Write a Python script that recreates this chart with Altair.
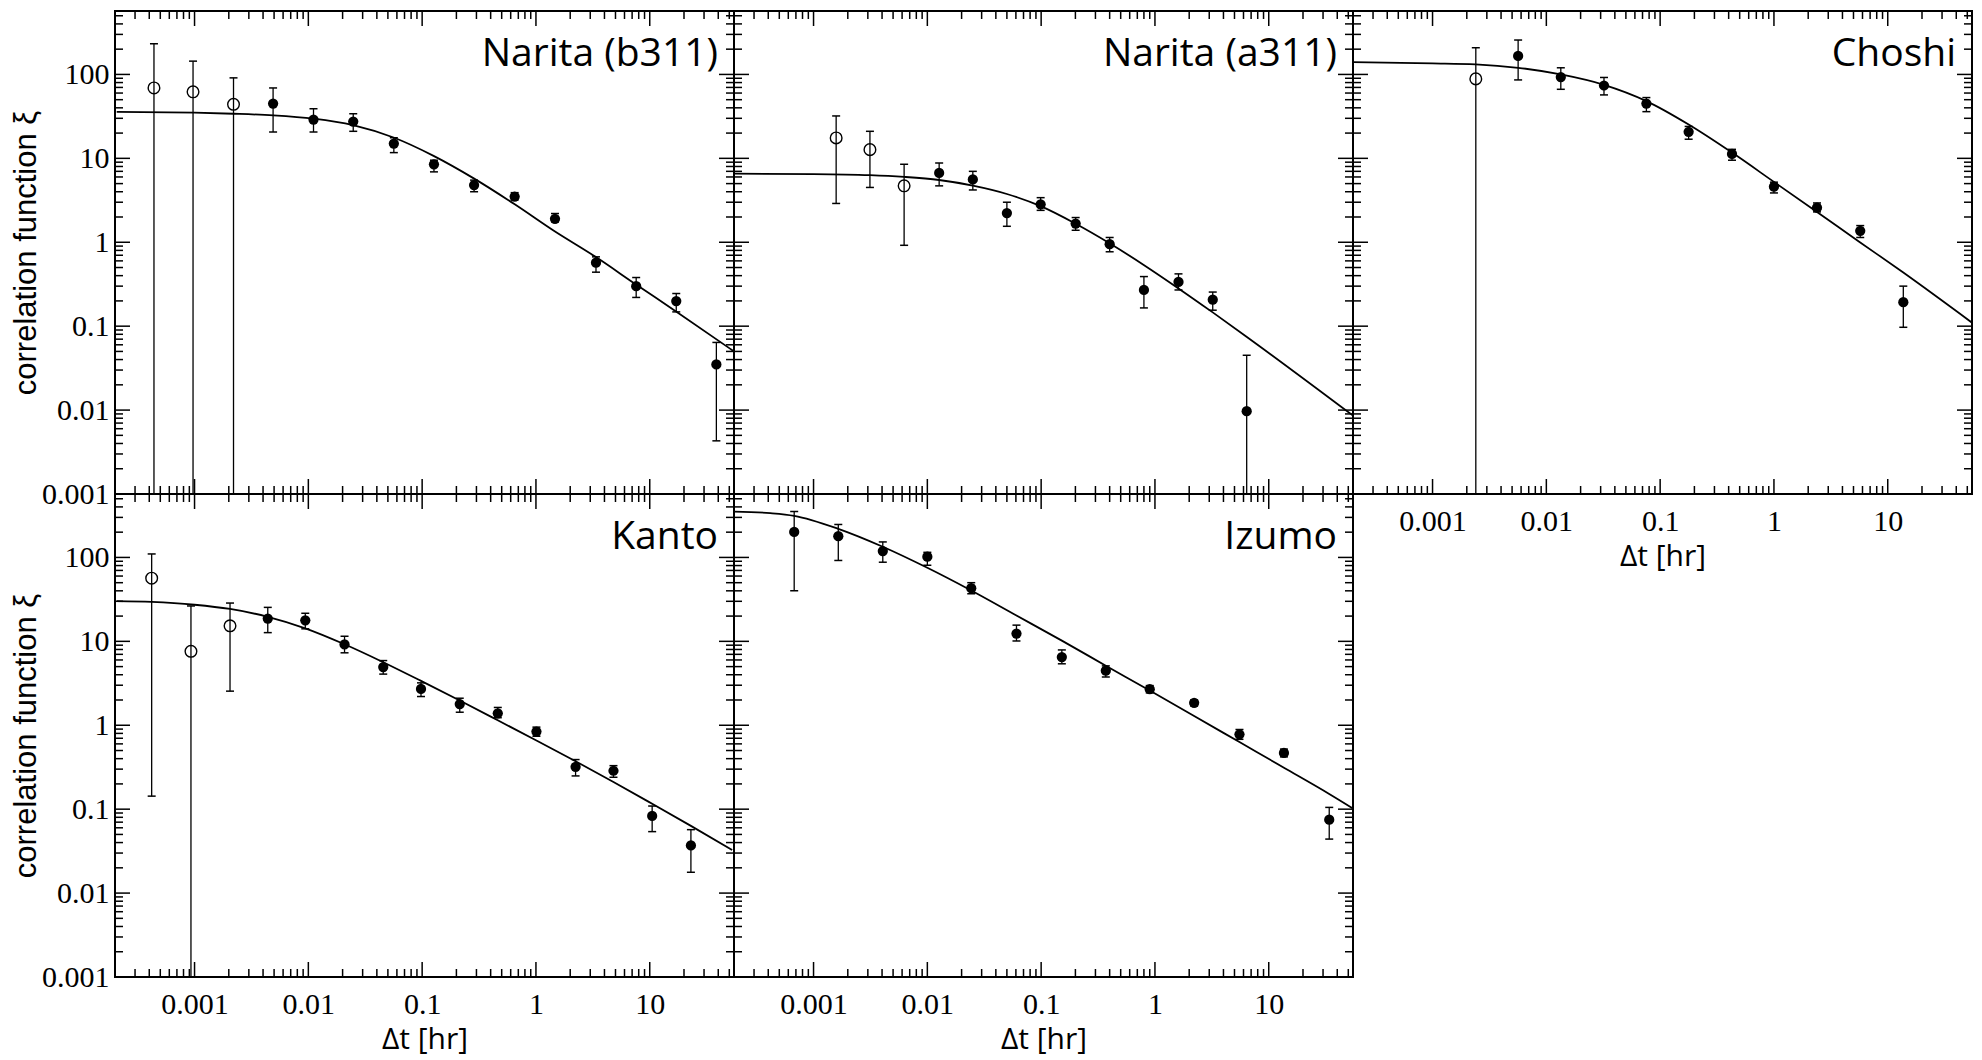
import altair as alt
import pandas as pd

W, H = 619, 483
XDOM = [2e-4, 55]
YDOM = [1e-3, 570]
FLOOR = 1e-5  # error bars that run off the bottom of the axis

# ---------------- data ----------------
# Narita (b311)
b311_t = [4.4e-4, 9.7e-4, 2.2e-3, 4.9e-3, 0.0111, 0.0248, 0.0564, 0.127, 0.286, 0.65, 1.47, 3.37, 7.6, 17.1, 38.5]
b311_xi = [69, 62, 44, 45, 29, 27.4, 15, 8.5, 4.8, 3.5, 1.9, 0.57, 0.30, 0.199, 0.035]
b311_hi = [232, 144, 91, 69, 39, 34, 17.6, 9.5, 5.5, 3.9, 2.2, 0.67, 0.38, 0.245, 0.064]
b311_lo = [FLOOR, FLOOR, FLOOR, 20.6, 20.6, 21, 11.7, 6.9, 4.0, 3.2, 1.75, 0.44, 0.22, 0.148, 0.0043]
b311_open = 3
b311_ct = [2.07e-4, 1e-3, 2.19e-3, 4.92e-3, 0.0111, 0.0247, 0.0561, 0.126, 0.284, 0.646, 1.46, 3.34, 7.52, 16.9, 50.7, 55]
b311_cxi = [35.7, 35.0, 34.0, 32.5, 29.7, 24.9, 17.7, 10.7, 5.77, 2.85, 1.35, 0.67, 0.316, 0.151, 0.054, 0.050]

# Narita (a311)
a311_t = [1.58e-3, 3.13e-3, 6.25e-3, 0.0127, 0.0251, 0.050, 0.099, 0.201, 0.40, 0.80, 1.61, 3.22, 6.4]
a311_xi = [17.5, 12.7, 4.7, 6.7, 5.6, 2.23, 2.83, 1.67, 0.95, 0.27, 0.337, 0.207, 0.0097]
a311_hi = [32, 21, 8.5, 8.8, 7.0, 3.0, 3.4, 1.97, 1.14, 0.39, 0.42, 0.255, 0.045]
a311_lo = [2.9, 4.5, 0.92, 4.7, 4.2, 1.55, 2.4, 1.39, 0.77, 0.165, 0.27, 0.155, FLOOR]
a311_open = 3
a311_ct = [1.97e-4, 1e-3, 3.13e-3, 6.25e-3, 0.0127, 0.0251, 0.050, 0.099, 0.201, 0.402, 0.797, 1.61, 3.22, 6.38, 55]
a311_cxi = [6.56, 6.50, 6.31, 6.01, 5.52, 4.73, 3.76, 2.69, 1.66, 0.966, 0.537, 0.282, 0.146, 0.075, 0.0086]

# Choshi
cho_t = [2.4e-3, 5.65e-3, 0.0134, 0.0321, 0.0757, 0.178, 0.428, 1.0, 2.39, 5.73, 13.7]
cho_xi = [88.5, 166, 93, 73.8, 45, 20.7, 11.3, 4.6, 2.58, 1.37, 0.193]
cho_hi = [208, 257, 120, 92, 53, 24, 12.8, 5.2, 2.94, 1.58, 0.30]
cho_lo = [FLOOR, 86, 66.5, 57, 36, 16.9, 9.5, 3.87, 2.3, 1.14, 0.097]
cho_open = 1
cho_ct = [1.97e-4, 1e-3, 2.39e-3, 5.65e-3, 0.0134, 0.0321, 0.0757, 0.178, 0.428, 1.0, 2.39, 5.73, 13.7, 55]
cho_cxi = [140, 135.5, 131.8, 120, 100, 75.2, 48.1, 25.3, 11.7, 5.24, 2.29, 0.995, 0.435, 0.110]

# Kanto
kan_t = [4.2e-4, 9.3e-4, 2.05e-3, 4.4e-3, 9.4e-3, 0.0208, 0.0455, 0.0977, 0.214, 0.462, 1.01, 2.23, 4.8, 10.5, 23]
kan_xi = [56.6, 7.6, 15.3, 18.7, 17.8, 9.2, 4.94, 2.71, 1.79, 1.39, 0.84, 0.32, 0.287, 0.083, 0.037]
kan_hi = [110, 26.4, 28.6, 25.4, 21.6, 11.5, 5.9, 3.2, 2.1, 1.63, 0.95, 0.39, 0.33, 0.109, 0.057]
kan_lo = [0.143, FLOOR, 2.55, 12.7, 14.1, 7.3, 4.07, 2.2, 1.43, 1.23, 0.74, 0.249, 0.24, 0.054, 0.0177]
kan_open = 3
kan_ct = [2.07e-4, 4.2e-4, 1e-3, 2.05e-3, 4.4e-3, 9.4e-3, 0.0208, 0.0455, 0.0977, 0.214, 0.462, 1.01, 2.23, 4.8, 10.5, 23, 53]
kan_cxi = [30.1, 29.5, 27.3, 24.3, 19.6, 14.3, 9.23, 5.64, 3.38, 1.97, 1.146, 0.658, 0.372, 0.211, 0.116, 0.0632, 0.0326]

# Izumo
izu_t = [6.76e-4, 1.65e-3, 4.06e-3, 0.01, 0.0243, 0.0607, 0.152, 0.37, 0.90, 2.21, 5.53, 13.6, 34]
izu_xi = [201, 179, 119, 102, 43, 12.4, 6.5, 4.47, 2.69, 1.85, 0.78, 0.468, 0.075]
izu_hi = [352, 247, 153, 115, 50, 15.6, 7.9, 5.1, 2.97, 2.0, 0.89, 0.52, 0.105]
izu_lo = [40, 92, 87.7, 80.7, 36.9, 10.1, 5.4, 3.76, 2.43, 1.70, 0.68, 0.42, 0.044]
izu_open = 0
izu_ct = [1.97e-4, 4.17e-4, 6.76e-4, 1.65e-3, 4.06e-3, 0.01, 0.0243, 0.0607, 0.152, 0.37, 0.90, 2.21, 5.53, 13.6, 34, 55]
izu_cxi = [352, 337, 313, 219, 134, 75.2, 40.3, 20.3, 10.2, 5.13, 2.59, 1.29, 0.63, 0.312, 0.152, 0.102]

# axis ticks / labels
x_major = [1e-3, 1e-2, 1e-1, 1, 10]
y_major = [1e-3, 1e-2, 1e-1, 1, 10, 100]
x_minor = [m * 10.0 ** e for e in range(-4, 2) for m in range(2, 10)
           if XDOM[0] <= m * 10.0 ** e <= XDOM[1]]
y_minor = [m * 10.0 ** e for e in range(-3, 3) for m in range(2, 10)
           if YDOM[0] <= m * 10.0 ** e <= YDOM[1]]

MAJ, MIN = 15, 8
SERIF = "Liberation Serif, Times New Roman, serif"


def panel(name, t, xi, lo, hi, n_open, ct, cxi, show_x, show_y):
    pts = pd.DataFrame({"t": t, "xi": xi, "lo": lo, "hi": hi})
    pts["open"] = [i < n_open for i in range(len(t))]
    cur = pd.DataFrame({"t": ct, "xi": cxi})
    xs = alt.Scale(type="log", domain=XDOM)
    ys = alt.Scale(type="log", domain=YDOM)

    if show_x:
        xaxis = alt.Axis(values=x_major, format="~g", ticks=False, tickSize=0,
                         domain=False, grid=False, labelFont=SERIF, labelFontSize=30,
                         labelPadding=12, labelColor="black", labelOverlap=False,
                         labelFlush=False, title="Δt [hr]", titleFont="Open Sans",
                         titleFontSize=30, titleFontWeight="normal", titleColor="black",
                         titleY=71, titleBaseline="alphabetic")
    else:
        xaxis = None
    if show_y:
        yaxis = alt.Axis(values=y_major, format="~g", ticks=False, tickSize=0,
                         domain=False, grid=False, labelFont=SERIF, labelFontSize=30,
                         labelPadding=6, labelColor="black", labelOverlap=False,
                         title="correlation function ξ", titleFont="Liberation Sans",
                         titleFontSize=31, titleFontWeight="normal", titleColor="black",
                         titleX=-89, titleY=H / 2, titleBaseline="middle")
    else:
        yaxis = None

    X = lambda f: alt.X(f, type="quantitative", scale=xs, axis=xaxis)
    Y = lambda f: alt.Y(f, type="quantitative", scale=ys, axis=yaxis)

    curve = alt.Chart(cur).mark_line(color="black", strokeWidth=1.8, clip=True,
                                     interpolate="monotone").encode(x=X("t"), y=Y("xi"))
    err = alt.Chart(pts).mark_rule(color="black", strokeWidth=1.3, clip=True).encode(
        x=X("t"), y=Y("lo"), y2="hi")
    cap_hi = alt.Chart(pts).mark_tick(orient="horizontal", size=8, thickness=1.5,
                                      color="black", clip=True, opacity=1).encode(x=X("t"), y=Y("hi"))
    cap_lo = alt.Chart(pts).mark_tick(orient="horizontal", size=8, thickness=1.5,
                                      color="black", clip=True, opacity=1).encode(x=X("t"), y=Y("lo"))
    filled = alt.Chart(pts[~pts["open"]]).mark_point(shape="circle", filled=True, size=105,
                                                     color="black", opacity=1, clip=True).encode(
        x=X("t"), y=Y("xi"))
    layers = [curve, err, cap_hi, cap_lo, filled]
    if n_open:
        opn = alt.Chart(pts[pts["open"]]).mark_point(shape="circle", filled=False, size=135,
                                                     color="black", strokeWidth=1.4, opacity=1,
                                                     clip=True).encode(x=X("t"), y=Y("xi"))
        layers.append(opn)

    lab = alt.Chart(pd.DataFrame({"s": [name]})).mark_text(
        align="right", baseline="alphabetic", font="Open Sans", fontSize=39,
        color="black").encode(x=alt.value(W - 16), y=alt.value(55), text="s:N")
    layers.append(lab)

    xmaj = pd.DataFrame({"v": x_major})
    xmin = pd.DataFrame({"v": x_minor})
    ymaj = pd.DataFrame({"v": y_major})
    ymin = pd.DataFrame({"v": y_minor})
    for df, L in ((xmaj, MAJ), (xmin, MIN)):
        base = alt.Chart(df).mark_rule(color="black", strokeWidth=1.5)
        layers.append(base.encode(x=X("v"), y=alt.value(H), y2=alt.value(H - L)))
        layers.append(base.encode(x=X("v"), y=alt.value(0), y2=alt.value(L)))
    for df, L in ((ymaj, MAJ), (ymin, MIN)):
        base = alt.Chart(df).mark_rule(color="black", strokeWidth=1.5)
        layers.append(base.encode(y=Y("v"), x=alt.value(0), x2=alt.value(L)))
        layers.append(base.encode(y=Y("v"), x=alt.value(W), x2=alt.value(W - L)))

    return alt.layer(*layers).properties(width=W, height=H)


p1 = panel("Narita (b311)", b311_t, b311_xi, b311_lo, b311_hi, b311_open, b311_ct, b311_cxi, False, True)
p2 = panel("Narita (a311)", a311_t, a311_xi, a311_lo, a311_hi, a311_open, a311_ct, a311_cxi, False, False)
p3 = panel("Choshi", cho_t, cho_xi, cho_lo, cho_hi, cho_open, cho_ct, cho_cxi, True, False)
p4 = panel("Kanto", kan_t, kan_xi, kan_lo, kan_hi, kan_open, kan_ct, kan_cxi, True, True)
p5 = panel("Izumo", izu_t, izu_xi, izu_lo, izu_hi, izu_open, izu_ct, izu_cxi, True, False)

chart = alt.concat(p1, p2, p3, p4, p5, columns=3, spacing=0, bounds="flush").properties(
    padding={"left": 9, "top": 9, "right": 4, "bottom": 2},
    background="white",
).configure_view(stroke="black", strokeWidth=2)

chart.save("out.html", embed_options={"renderer": "svg", "actions": False})
